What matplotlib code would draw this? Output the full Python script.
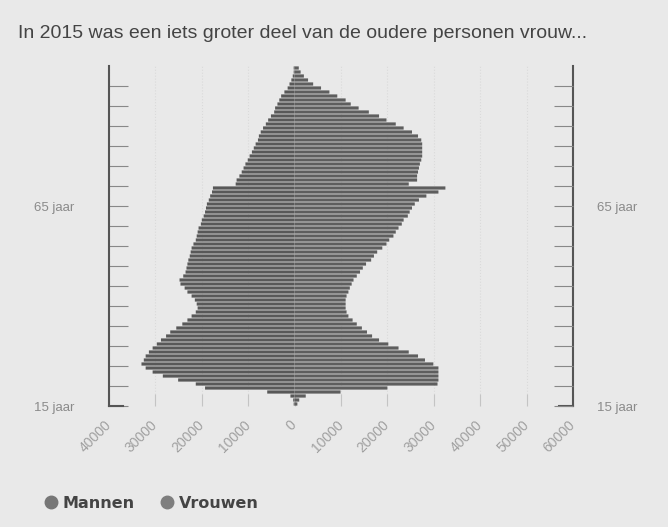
import numpy as np
import matplotlib
matplotlib.use("Agg")
import matplotlib.pyplot as plt
from matplotlib.lines import Line2D

ages = np.arange(15, 100)

mannen = [
    200, 300, 900, 5900, 19300, 21300, 25100, 28400, 30600, 32100,   # 15-24
    33000, 32500, 32100, 31400, 30600, 29700, 28800, 27700, 26800, 25500,  # 25-34
    24200, 23100, 22200, 21300, 20900, 21100, 21500, 22200, 23100, 23700,  # 35-44
    24600, 24800, 24000, 23500, 23300, 23100, 22900, 22600, 22400, 22200,  # 45-54
    21800, 21300, 21100, 20900, 20700, 20200, 20000, 19600, 19300, 19100,  # 55-64
    18900, 18500, 18200, 17800, 17600, 12700, 12500, 11900, 11400, 11000,  # 65-74
    10600, 10100, 9700, 9200, 8800, 8400, 7900, 7700, 7300, 6800,          # 75-84
    6200, 5700, 5100, 4400, 4200, 3700, 3300, 2900, 2200, 1500,            # 85-94
    1100, 700, 400, 200, 200,                                              # 95-99
]

vrouwen = [
    600, 1000, 2400, 9900, 20000, 30800, 31000, 31000, 31000, 31000,       # 15-24
    29900, 28100, 26600, 24600, 22400, 20200, 18200, 16700, 15600, 14500,  # 25-34
    13400, 12500, 11600, 11200, 11000, 11000, 11000, 11200, 11600, 11900,  # 35-44
    12300, 12700, 13400, 14100, 14700, 15400, 16500, 17100, 17800, 18900,  # 45-54
    19800, 20400, 21300, 21800, 22400, 23100, 23500, 24400, 24800, 25300,  # 55-64
    25900, 26800, 28400, 31000, 32500, 24600, 26400, 26400, 26600, 26800,  # 65-74
    27000, 27300, 27500, 27500, 27500, 27500, 27300, 26600, 25300, 23500,  # 75-84
    21800, 19800, 18200, 16000, 13800, 12100, 11000, 9200, 7500, 5700,     # 85-94
    4000, 2900, 2000, 1300, 900,                                           # 95-99
]

x_ticks = np.arange(-40000, 60001, 10000)
y_ticks = np.arange(14.5, 95, 5)
y_labels = {14.5: "15 jaar", 64.5: "65 jaar"}

title = "In 2015 was een iets groter deel van de oudere personen vrouw..."

bg = "#e9e9e9"
plt.rcParams["font.family"] = ["Liberation Sans", "DejaVu Sans"]

fig = plt.figure(figsize=(6.68, 5.27), dpi=100, facecolor=bg)
ax = fig.add_axes([109 / 668, 1 - 406 / 527, 464 / 668, 340 / 527])
ax.set_facecolor(bg)

# geen snapping: de smalle tussenruimte wordt een licht lijntje
ax.barh(ages, -np.array(mannen), height=0.8, color="#585858",
        snap=False, zorder=2)
ax.barh(ages, vrouwen, height=0.8, color="#5e5e5e",
        snap=False, zorder=2)

ax.set_xlim(-40000, 60000)
ax.set_ylim(14.5, 99.5)

# x-as: absolute waarden, schuin
ax.set_xticks(x_ticks)
ax.set_xticklabels([str(abs(v)) for v in x_ticks], rotation=45,
                   ha="right", va="center", rotation_mode="anchor")
ax.tick_params(axis="x", direction="in", length=9, color="#c4c4c4",
               labelcolor="#a0a0a0", labelsize=10, pad=12)
ax.grid(axis="x", color="#dadada", linewidth=0.8, linestyle=":", zorder=0)

for side in ["top", "bottom"]:
    ax.spines[side].set_visible(False)
for side in ["left", "right"]:
    ax.spines[side].set_color("#555555")
    ax.spines[side].set_linewidth(1.5)

ax.set_yticks(y_ticks)
ax.set_yticklabels([y_labels.get(t, "") for t in y_ticks])
ax.tick_params(axis="y", direction="in", length=14, width=0.8, color="#888888",
               labelcolor="#8a8a8a", labelsize=9.5, pad=25, left=True, right=False)

ax2 = ax.twinx()
ax2.set_ylim(ax.get_ylim())
ax2.set_yticks(y_ticks)
ax2.set_yticklabels([y_labels.get(t, "") for t in y_ticks])
ax2.tick_params(axis="y", direction="in", length=14, width=0.8, color="#888888",
                labelcolor="#8a8a8a", labelsize=9.5, pad=17)
for side in ["top", "bottom", "left", "right"]:
    ax2.spines[side].set_visible(False)

# korte voetjes onderaan de assen
ax.plot([0, 0.03], [0, 0], transform=ax.transAxes, color="#555555", lw=1.5, clip_on=False)
ax.plot([0.97, 1], [0, 0], transform=ax.transAxes, color="#555555", lw=1.5, clip_on=False)

fig.text(18 / 668, 1 - 33 / 527, title, fontsize=14, color="#444444", va="center")

handles = [Line2D([], [], marker="o", linestyle="", markersize=9, color="#767676"),
           Line2D([], [], marker="o", linestyle="", markersize=9, color="#7e7e7e")]
fig.legend(handles, ["Mannen", "Vrouwen"], loc="center left",
           bbox_to_anchor=(27 / 668, 1 - 503 / 527), ncol=2, frameon=False,
           handletextpad=0.15, columnspacing=1.4, handlelength=1.2,
           prop={"family": "DejaVu Sans", "weight": "bold", "size": 11.5},
           labelcolor="#444444")

fig.savefig("out.png", dpi=100, facecolor=bg)
